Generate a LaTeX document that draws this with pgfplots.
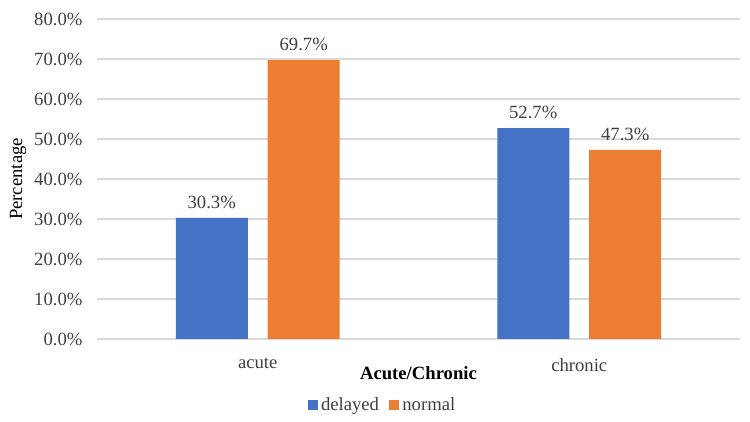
\documentclass[border=0pt]{standalone}
\usepackage{pgfplots}
\pgfplotsset{compat=1.18}
\usepackage{fontspec}
\setmainfont{Liberation Serif}
\definecolor{cblue}{HTML}{4472C4}
\definecolor{corange}{HTML}{ED7D31}
\definecolor{ctext}{HTML}{404040}
\definecolor{cgrid}{HTML}{D9D9D9}
\begin{document}
\begin{tikzpicture}
\useasboundingbox (-58.2pt,-49.8pt) rectangle (391.8pt,203.4pt);
\begin{axis}[
  at={(0pt,0pt)}, anchor=south west,
  scale only axis, width=385.8pt, height=192pt,
  xmin=-0.5, xmax=1.5, ymin=0, ymax=80,
  xtick={0,1}, xticklabels={acute,chronic},
  ytick={0,10,...,80},
  yticklabel={\pgfmathprintnumber[fixed,fixed zerofill,precision=1]{\tick}\%},
  /pgf/number format/assume math mode=true,
  ymajorgrids, grid style={cgrid, line width=0.8pt},
  axis line style={draw=none},
  major tick length=0pt,
  tick label style={font=\fontsize{11.2}{13}\selectfont, text=ctext},
  yticklabel style={xshift=-5.2pt},
  xticklabel style={yshift=-8pt},
  xlabel={\textbf{Acute/Chronic}},
  xlabel style={font=\fontsize{11.2}{13}\selectfont, at={(axis description cs:0.5,-0.108)}, anchor=center, text=black},
  ylabel={Percentage},
  ylabel style={font=\fontsize{11.2}{13}\selectfont, at={(axis description cs:-0.1229,0.5)}, anchor=center, text=black},
  ybar, bar shift=0pt, bar width=0.224,
  nodes near coords={\pgfmathprintnumber[fixed,fixed zerofill,precision=1]{\pgfplotspointmeta}\%},
  nodes near coords style={font=\fontsize{11.2}{13}\selectfont, text=ctext, anchor=south, yshift=2pt},
  legend style={at={(axis cs:0.39,0)}, anchor=center, yshift=-39.6pt, draw=none, fill=none,
    font=\fontsize{11.2}{13}\selectfont, text=ctext, legend columns=2,
    /tikz/every even column/.append style={column sep=4pt}},
  legend image code/.code={\fill[#1] (0pt,-3pt) rectangle (6pt,3pt);},
]
\addplot[fill=cblue, draw=none] coordinates {(-0.143,30.3) (0.857,52.7)};
\addplot[fill=corange, draw=none] coordinates {(0.143,69.7) (1.143,47.3)};
\legend{delayed,normal}
\end{axis}
\end{tikzpicture}
\end{document}
